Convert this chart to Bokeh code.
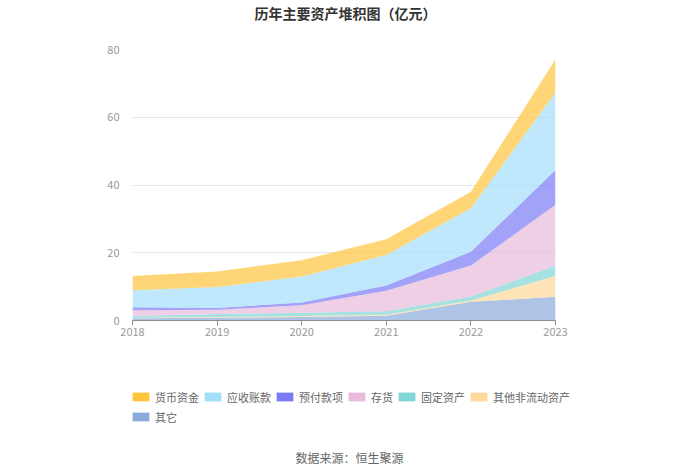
from bokeh.plotting import figure
from bokeh.layouts import column
from bokeh.models import ColumnDataSource, FixedTicker, Legend, LegendItem, Label, Range1d
from bokeh.embed import file_html
from bokeh.resources import INLINE

years = [2018, 2019, 2020, 2021, 2022, 2023]
series_names = ["其它", "其他非流动资产", "固定资产", "存货", "预付款项", "应收账款", "货币资金"]
qita = [0.7, 0.8, 1.0, 1.4, 5.5, 7.0]
qita_fldzc = [0.1, 0.2, 0.3, 0.3, 0.4, 6.1]
gdzc = [0.5, 0.9, 1.0, 1.0, 1.2, 3.1]
cunhuo = [1.7, 1.3, 2.2, 6.1, 9.1, 18.0]
yufu = [0.9, 0.5, 0.8, 1.5, 4.1, 10.2]
yingshou = [5.0, 6.2, 7.7, 9.0, 12.8, 22.9]
huobi = [4.2, 4.6, 4.8, 4.7, 4.9, 9.8]
colors = ["#8AABDB", "#FFD89A", "#82D5D5", "#E8BADB", "#7B7BF7", "#A5DEFB", "#FFC53D"]
legend_order = ["货币资金", "应收账款", "预付款项", "存货", "固定资产", "其他非流动资产", "其它"]
y_ticks = [0, 20, 40, 60, 80]

FONT = "Noto Sans CJK SC"


def blank_fig(h):
    f = figure(width=700, height=h, output_backend="svg", toolbar_location=None,
               x_range=Range1d(0, 1), y_range=Range1d(0, 1),
               min_border_left=0, min_border_right=0, min_border_top=0, min_border_bottom=0)
    f.frame_align = False
    f.axis.visible = False
    f.grid.visible = False
    f.outline_line_color = None
    f.background_fill_color = "white"
    f.border_fill_color = "white"
    return f


# title strip
p0 = blank_fig(24)
p0.add_layout(Label(x=345, y=12, x_units="screen", y_units="screen", text="历年主要资产堆积图（亿元）",
                    text_align="center", text_baseline="middle", text_font=FONT,
                    text_font_size="14px", text_font_style="bold", text_color="#333333"))

src = ColumnDataSource(dict(year=years, **{
    "其它": qita, "其他非流动资产": qita_fldzc, "固定资产": gdzc, "存货": cunhuo,
    "预付款项": yufu, "应收账款": yingshou, "货币资金": huobi}))

p = figure(width=700, height=356, output_backend="svg", toolbar_location=None,
           x_range=Range1d(2018, 2023), y_range=Range1d(0, 80),
           min_border_left=132, min_border_right=145, min_border_top=25, min_border_bottom=60)
p.frame_align = False
p.outline_line_color = None
p.background_fill_color = "white"
p.border_fill_color = "white"

p.varea_stack(stackers=series_names, x="year", color=colors, fill_alpha=0.7, source=src)

# axes
p.xaxis.ticker = FixedTicker(ticks=years)
p.xaxis.axis_line_color = "#8c8c8c"
p.xaxis.major_tick_line_color = "#8c8c8c"
p.xaxis.major_tick_out = 5
p.xaxis.major_tick_in = 0
p.xaxis.minor_tick_line_color = None
p.xaxis.major_label_text_color = "#999999"
p.xaxis.major_label_text_font = FONT
p.xaxis.major_label_text_font_size = "11px"
p.xaxis.major_label_standoff = 2

p.yaxis.ticker = FixedTicker(ticks=y_ticks)
p.yaxis.axis_line_color = None
p.yaxis.major_tick_line_color = None
p.yaxis.minor_tick_line_color = None
p.yaxis.major_label_text_color = "#999999"
p.yaxis.major_label_text_font = FONT
p.yaxis.major_label_text_font_size = "11px"
p.yaxis.major_label_standoff = 7

p.xgrid.grid_line_color = None
p.ygrid.grid_line_color = "#E0E6F1"

# lower strip: legend and source note
p2 = blank_fig(90)

cmap = dict(zip(series_names, colors))
items = []
for name in legend_order:
    r = p2.rect(x=[-10], y=[-10], width=1, height=1, fill_color=cmap[name], line_color=None)
    items.append(LegendItem(label=name, renderers=[r]))

legend = Legend(items=items, orientation="horizontal", ncols=6,
                location=(130, 45), glyph_width=21, glyph_height=11,
                label_standoff=4, spacing=3, label_height=17, padding=0, margin=0,
                label_text_font=FONT, label_text_font_size="11px", label_text_color="#666666",
                border_line_color=None, background_fill_alpha=0)
p2.add_layout(legend, "center")

p2.add_layout(Label(x=349, y=13, x_units="screen", y_units="screen", text="数据来源：恒生聚源",
                    text_align="center", text_baseline="middle", text_font=FONT,
                    text_font_size="12px", text_color="#666666"))

open("out.html", "w").write(file_html(column(p0, p, p2, spacing=0), INLINE))
